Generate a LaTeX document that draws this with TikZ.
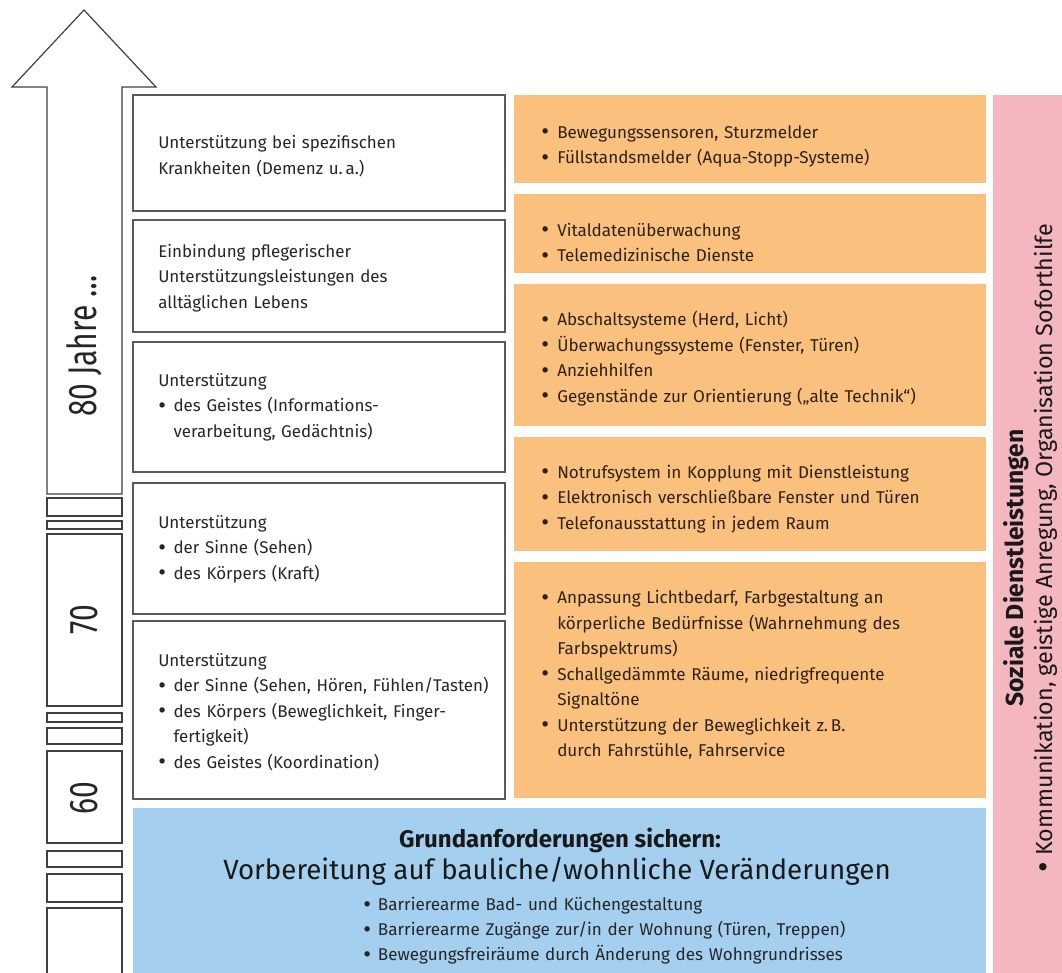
\documentclass[tikz,border=0pt]{standalone}
\usepackage{fontspec}
\setmainfont{Fira Sans}
\definecolor{orng}{HTML}{F9C07E}
\definecolor{lblue}{HTML}{A4CFEF}
\definecolor{pnk}{HTML}{F5B7BF}
\definecolor{bordr}{HTML}{5A5A5A}
\definecolor{otext}{HTML}{2E2213}
\newlength\bind
\newcommand\bdot{\raisebox{-0.09em}{\scalebox{1.4}{\textbullet}}}
\newcommand\bi{\par\hangindent=\bind\hangafter=1\noindent\makebox[\bind][l]{\bdot}}
\tikzset{
  wbox/.style={draw=bordr, line width=1pt, fill=white},
  obox/.style={fill=orng, draw=none},
  seg/.style={draw=black!75, line width=0.9pt, fill=white},
  wtxt/.style={anchor=west, inner sep=0pt, text width=265pt, align=left, text=black!85,
    font=\fontsize{12.7}{19.1}\selectfont\setlength\bind{11.5pt}\parindent0pt\parskip0pt},
  otxt/.style={anchor=west, inner sep=0pt, text width=335pt, align=left, text=otext,
    font=\fontsize{12.8}{19.1}\selectfont\setlength\bind{12pt}\parindent0pt\parskip0pt},
  agelabel/.style={rotate=90, inner sep=0pt, text=black!85, font=\fontsize{30}{30}\selectfont},
}
\begin{document}
\begin{tikzpicture}[x=0.75pt,y=-0.75pt]
\useasboundingbox (0,0) rectangle (1062,972);
% arrow and shaft segments
\draw[seg] (47,494) -- (47,87) -- (12,87) -- (84,10) -- (156,87) -- (122,87) -- (122,494) -- cycle;
\draw[seg] (47,498) rectangle (122,516);
\draw[seg] (47,521) rectangle (122,529);
\draw[seg] (47,534) rectangle (122,706);
\draw[seg] (47,713) rectangle (122,722);
\draw[seg] (47,728) rectangle (122,744);
\draw[seg] (47,751) rectangle (122,843);
\draw[seg] (47,851) rectangle (122,867);
\draw[seg] (47,874) rectangle (122,902);
\draw[seg] (47,908) rectangle (122,990);
\node[agelabel] (a80) at (84,346) {\scalebox{0.75}[1]{80 Jahre \dots}};
\node[agelabel] (a70) at (84,620) {\scalebox{0.75}[1]{70}};
\node[agelabel] (a60) at (84,798) {\scalebox{0.75}[1]{60}};
% white boxes
\draw[wbox] (133,95) rectangle (505,211);
\draw[wbox] (133,220) rectangle (505,332);
\draw[wbox] (133,342) rectangle (505,472);
\draw[wbox] (133,483) rectangle (505,614);
\draw[wbox] (133,621) rectangle (505,799);
\node[wtxt] (w1) at (158,156) {Unterstützung bei spezifischen\newline Krankheiten (Demenz u.\,a.)\par};
\node[wtxt] (w2) at (158,278) {Einbindung pflegerischer\newline Unterstützungsleistungen des\newline alltäglichen Lebens\par};
\node[wtxt] (w3) at (158,407) {Unterstützung\bi des Geistes (Informations-\newline verarbeitung, Gedächtnis)\par};
\node[wtxt] (w4) at (158,549) {Unterstützung\bi der Sinne (Sehen)\bi des Körpers (Kraft)\par};
\node[wtxt] (w5) at (158,712) {Unterstützung\bi der Sinne (Sehen, Hören, Fühlen/Tasten)\bi des Körpers (Beweglichkeit, Finger-\newline fertigkeit)\bi des Geistes (Koordination)\par};
% orange boxes
\fill[obox] (514,95) rectangle (986,183);
\fill[obox] (514,194) rectangle (986,273);
\fill[obox] (514,284) rectangle (986,426);
\fill[obox] (514,437) rectangle (986,551);
\fill[obox] (514,562) rectangle (986,798);
\node[otxt] (o1) at (541,140) {\bi Bewegungssensoren, Sturzmelder\bi Füllstandsmelder (Aqua-Stopp-Systeme)\par};
\node[otxt] (o2) at (541,237) {\bi Vitaldatenüberwachung\bi Telemedizinische Dienste\par};
\node[otxt] (o3) at (541,353) {\bi Abschaltsysteme (Herd, Licht)\bi Überwachungssysteme (Fenster, Türen)\bi Anziehhilfen\bi Gegenstände zur Orientierung („alte Technik“)\par};
\node[otxt] (o4) at (541,493) {\bi Notrufsystem in Kopplung mit Dienstleistung\bi Elektronisch verschließbare Fenster und Türen\bi Telefonausstattung in jedem Raum\par};
\node[otxt] (o5) at (541,669) {\bi Anpassung Lichtbedarf, Farbgestaltung an\newline körperliche Bedürfnisse (Wahrnehmung des\newline Farbspektrums)\bi Schallgedämmte Räume, niedrigfrequente\newline Signaltöne\bi Unterstützung der Beweglichkeit z.\,B.\newline durch Fahrstühle, Fahrservice\par};
% blue box
\fill[lblue] (133,808) rectangle (986,990);
\node[inner sep=0pt, text=black!90, font=\fontsize{18}{20}\selectfont\bfseries] (g1) at (560,840) {Grundanforderungen sichern:};
\node[inner sep=0pt, text=black!90, font=\fontsize{20.8}{22}\selectfont] (g2) at (557,871) {Vorbereitung auf bauliche/wohnliche Veränderungen};
\node[anchor=west, inner sep=0pt, text width=450pt, align=left, text=black!85,
  font=\fontsize{12.8}{18.75}\selectfont\setlength\bind{11pt}\parindent0pt\parskip0pt] (g3) at (363,925)
  {\bi Barrierearme Bad- und Küchengestaltung\bi Barrierearme Zugänge zur/in der Wohnung (Türen, Treppen)\bi Bewegungsfreiräume durch Änderung des Wohngrundrisses\par};
% pink box
\fill[pnk] (993,95) rectangle (1070,990);
\node[rotate=90, inner sep=0pt, text=black!90, font=\fontsize{18.5}{20}\selectfont\bfseries] (soz) at (1016,568) {Soziale Dienstleistungen};
\node[rotate=90, inner sep=0pt, text=black!90, font=\fontsize{17.5}{20}\selectfont] (kom) at (1046,548) {\bdot\ Kommunikation, geistige Anregung, Organisation Soforthilfe};
\end{tikzpicture}
\end{document}
